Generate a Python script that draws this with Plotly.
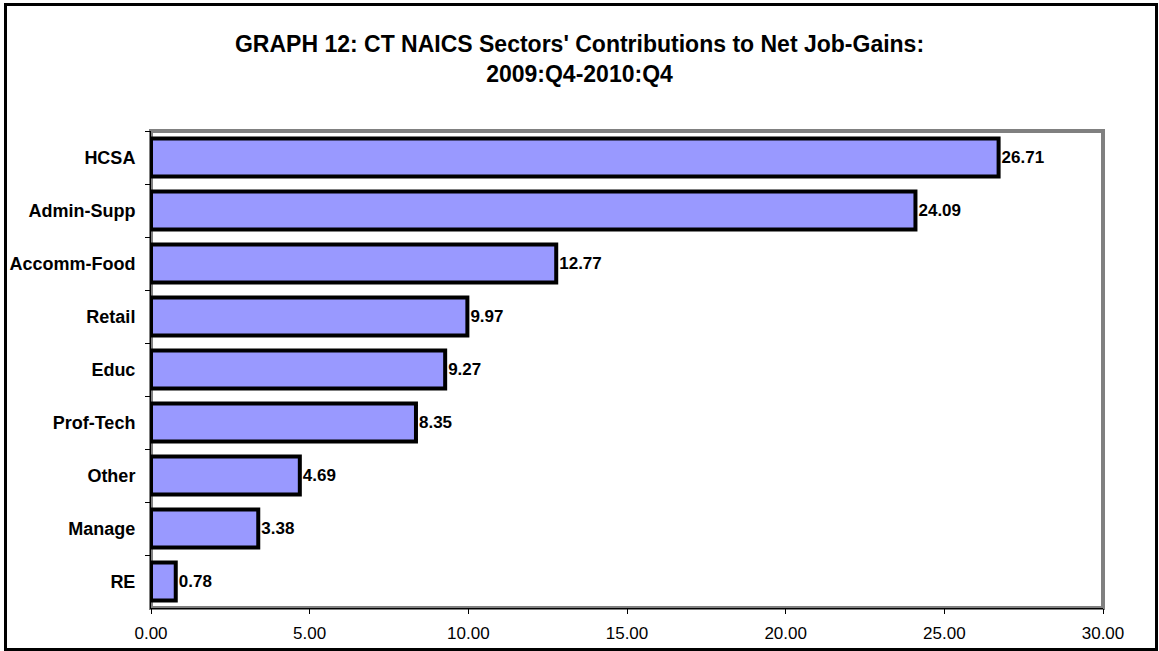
import plotly.graph_objects as go

categories = ["HCSA", "Admin-Supp", "Accomm-Food", "Retail", "Educ", "Prof-Tech", "Other", "Manage", "RE"]
values = [26.71, 24.09, 12.77, 9.97, 9.27, 8.35, 4.69, 3.38, 0.78]
x_ticks = [0, 5, 10, 15, 20, 25, 30]
title_text = "GRAPH 12: CT NAICS Sectors' Contributions to Net Job-Gains:<br>2009:Q4-2010:Q4"

W, H = 1159, 651
ML, MR, MT, MB = 151, 56, 131, 43
PW = W - ML - MR
PH = H - MT - MB

def px_x(px):
    return (px - ML) / PW

def px_y(py):
    return (H - MB - py) / PH

FONT = "Liberation Sans, Arial"

fig = go.Figure()
fig.add_trace(go.Bar(
    y=categories,
    x=values,
    orientation="h",
    marker=dict(color="#9999FF", line=dict(color="black", width=4)),
    text=[f"{v:.2f}" for v in values],
    textposition="outside",
    textfont=dict(family=FONT, size=17, color="black", weight="bold"),
    cliponaxis=False,
    width=0.72,
    hoverinfo="skip",
))

# gray plot-area frame
fig.add_shape(type="rect", xref="x domain", yref="y domain", x0=0, x1=1, y0=0, y1=1,
              line=dict(color="#808080", width=4), layer="below")
# outer chart border
fig.add_shape(type="rect", xref="paper", yref="paper",
              x0=px_x(5.5), x1=px_x(1156.5), y0=px_y(649.5), y1=px_y(4.5),
              line=dict(color="black", width=3))

fig.update_layout(
    width=W, height=H,
    margin=dict(l=ML, r=MR, t=MT, b=MB, autoexpand=False),
    paper_bgcolor="white",
    plot_bgcolor="white",
    showlegend=False,
    font=dict(family=FONT, color="black"),
    title=dict(
        text=title_text,
        x=0.5, xref="container", xanchor="center",
        y=1 - 52 / H, yref="container", yanchor="top",
        font=dict(family=FONT, size=23, color="black", weight="bold"),
        automargin=False,
    ),
    bargap=0.28,
)
fig.update_xaxes(
    range=[0, 30],
    tickvals=x_ticks,
    tickformat=".2f",
    showgrid=False,
    zeroline=False,
    automargin=False,
    showline=True, linecolor="black", linewidth=1,
    ticks="outside", ticklen=5, tickcolor="black", tickwidth=1,
    tickfont=dict(size=17, color="black"),
    ticklabelstandoff=5,
)
fig.update_yaxes(
    categoryorder="array", categoryarray=categories,
    autorange="reversed",
    showgrid=False,
    automargin=False,
    showline=True, linecolor="black", linewidth=1,
    ticks="outside", ticklen=5, tickcolor="black", tickson="boundaries",
    tickfont=dict(size=18, color="black", weight="bold"),
    ticklabelstandoff=11,
)

fig.write_html(
    "out.html",
    config={"displayModeBar": False, "responsive": False},
    post_script="document.body.style.margin='0';document.body.style.overflow='hidden';",
)
